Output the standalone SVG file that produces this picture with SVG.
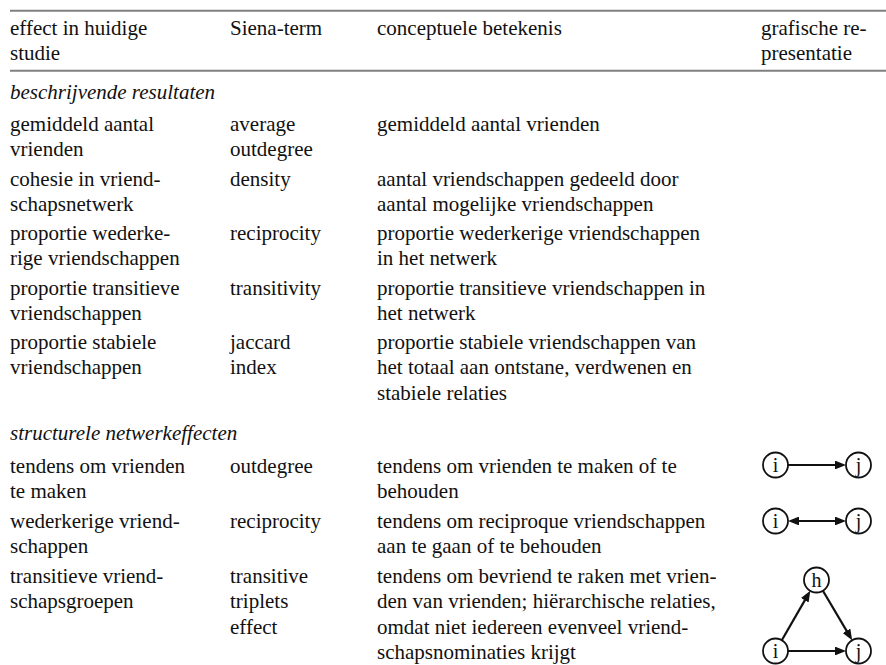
<svg xmlns="http://www.w3.org/2000/svg" width="886" height="665" viewBox="0 0 886 665">
  <style>
    text { font-family: 'Liberation Serif', 'Times New Roman', Times, serif; font-size: 21px; fill: #111; }
    .it { font-style: italic; }
    .rule { stroke: #808080; stroke-width: 2; }
    .node circle { fill: #fff; stroke: #111; stroke-width: 1.8; }
    .node text { font-size: 20px; text-anchor: middle; }
    .edge { stroke: #111; stroke-width: 2.2; fill: none; }
  </style>
  <defs>
    <marker id="ah" markerWidth="5" markerHeight="4" refX="3" refY="2" orient="auto-start-reverse" markerUnits="strokeWidth">
      <path d="M0,0 L5,2 L0,4 z" fill="#111"/>
    </marker>
  </defs>
  <rect width="886" height="665" fill="#fff"/>

  <g id="rules">
    <line class="rule" x1="10" y1="10.7" x2="886" y2="10.7"/>
    <line class="rule" x1="10" y1="70.7" x2="886" y2="70.7"/>
  </g>

  <g id="header">
    <text x="10" y="34.5">effect in huidige<tspan x="10" dy="25.5">studie</tspan></text>
    <text x="230" y="34.5">Siena-term</text>
    <text x="377" y="34.5">conceptuele betekenis</text>
    <text x="761" y="34.5">grafische re-<tspan x="761" dy="25.5">presentatie</tspan></text>
  </g>

  <g id="sec1"><text class="it" x="10" y="99">beschrijvende resultaten</text></g>

  <g id="row1">
    <text x="10" y="131">gemiddeld aantal<tspan x="10" dy="25.3">vrienden</tspan></text>
    <text x="230" y="131">average<tspan x="230" dy="25.3">outdegree</tspan></text>
    <text x="377" y="131">gemiddeld aantal vrienden</text>
  </g>
  <g id="row2">
    <text x="10" y="185.5">cohesie in vriend-<tspan x="10" dy="25.3">schapsnetwerk</tspan></text>
    <text x="230" y="185.5">density</text>
    <text x="377" y="185.5">aantal vriendschappen gedeeld door<tspan x="377" dy="25.3">aantal mogelijke vriendschappen</tspan></text>
  </g>
  <g id="row3">
    <text x="10" y="240">proportie wederke-<tspan x="10" dy="25.3">rige vriendschappen</tspan></text>
    <text x="230" y="240">reciprocity</text>
    <text x="377" y="240">proportie wederkerige vriendschappen<tspan x="377" dy="25.3">in het netwerk</tspan></text>
  </g>
  <g id="row4">
    <text x="10" y="294.5">proportie transitieve<tspan x="10" dy="25.3">vriendschappen</tspan></text>
    <text x="230" y="294.5">transitivity</text>
    <text x="377" y="294.5">proportie transitieve vriendschappen in<tspan x="377" dy="25.3">het netwerk</tspan></text>
  </g>
  <g id="row5">
    <text x="10" y="349">proportie stabiele<tspan x="10" dy="25.3">vriendschappen</tspan></text>
    <text x="230" y="349">jaccard<tspan x="230" dy="25.3">index</tspan></text>
    <text x="377" y="349">proportie stabiele vriendschappen van<tspan x="377" dy="25.3">het totaal aan ontstane, verdwenen en</tspan><tspan x="377" dy="26">stabiele relaties</tspan></text>
  </g>

  <g id="sec2"><text class="it" x="10" y="440">structurele netwerkeffecten</text></g>

  <g id="row6">
    <text x="10" y="473">tendens om vrienden<tspan x="10" dy="25.3">te maken</tspan></text>
    <text x="230" y="473">outdegree</text>
    <text x="377" y="473">tendens om vrienden te maken of te<tspan x="377" dy="25.3">behouden</tspan></text>
  </g>
  <g id="row7">
    <text x="10" y="528">wederkerige vriend-<tspan x="10" dy="25.3">schappen</tspan></text>
    <text x="230" y="528">reciprocity</text>
    <text x="377" y="528">tendens om reciproque vriendschappen<tspan x="377" dy="25.3">aan te gaan of te behouden</tspan></text>
  </g>
  <g id="row8">
    <text x="10" y="583">transitieve vriend-<tspan x="10" dy="25.3">schapsgroepen</tspan></text>
    <text x="230" y="583">transitive<tspan x="230" dy="25.3">triplets</tspan><tspan x="230" dy="25.5">effect</tspan></text>
    <text x="377" y="583">tendens om bevriend te raken met vrien-<tspan x="377" dy="25.3">den van vrienden; hiërarchische relaties,</tspan><tspan x="377" dy="25.5">omdat niet iedereen evenveel vriend-</tspan><tspan x="377" dy="25.5">schapsnominaties krijgt</tspan></text>
  </g>

  <g id="connectors">
    <line class="edge" x1="788" y1="465" x2="841.6" y2="465" marker-end="url(#ah)"/>
    <line class="edge" x1="792.4" y1="521" x2="841.6" y2="521" marker-start="url(#ah)" marker-end="url(#ah)"/>
    <line class="edge" x1="788" y1="651" x2="841.6" y2="651" marker-end="url(#ah)"/>
    <line class="edge" x1="781.8" y1="640.2" x2="808.1" y2="594.6" marker-end="url(#ah)"/>
    <line class="edge" x1="822.9" y1="590.8" x2="849.9" y2="636.4" marker-end="url(#ah)"/>
  </g>

  <g id="n-i1" class="node"><circle cx="775.5" cy="465" r="12.5"/><text x="775.5" y="472">i</text></g>
  <g id="n-j1" class="node"><circle cx="858.5" cy="465" r="12.5"/><text x="858.5" y="472">j</text></g>
  <g id="n-i2" class="node"><circle cx="775.5" cy="521" r="12.5"/><text x="775.5" y="528">i</text></g>
  <g id="n-j2" class="node"><circle cx="858.5" cy="521" r="12.5"/><text x="858.5" y="528">j</text></g>
  <g id="n-h3" class="node"><circle cx="816.5" cy="580" r="12.5"/><text x="816.5" y="587">h</text></g>
  <g id="n-i3" class="node"><circle cx="775.5" cy="651" r="12.5"/><text x="775.5" y="658">i</text></g>
  <g id="n-j3" class="node"><circle cx="858.5" cy="651" r="12.5"/><text x="858.5" y="658">j</text></g>
</svg>
